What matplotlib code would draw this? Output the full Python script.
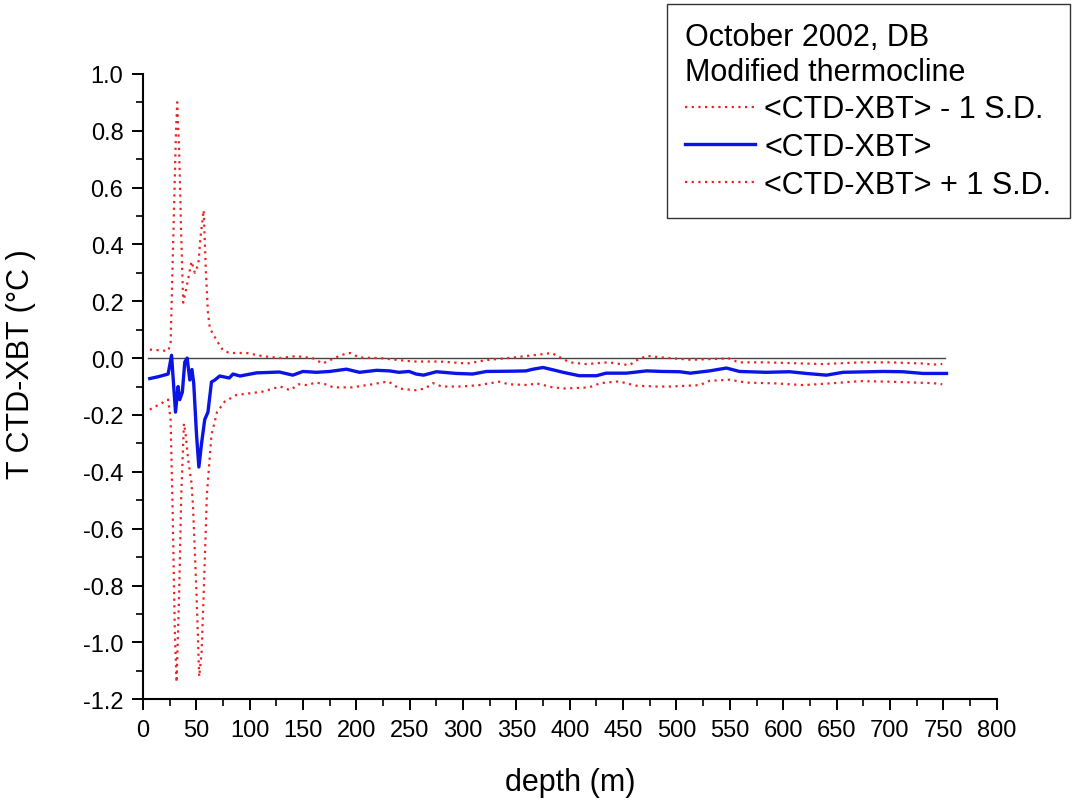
#!/usr/bin/env python3
"""
CTD minus XBT temperature difference vs depth, October 2002 (DB),
modified thermocline, with +/- 1 S.D. envelope.
"""

import matplotlib.pyplot as plt
from matplotlib.ticker import MultipleLocator

# ============================================================================
# DATA
# ============================================================================
depth_mean = [6.5, 15, 23.7, 26.9, 28.5, 30.6, 33, 34.6, 37, 39.3, 41.5, 44, 46,
              47.7, 50.3, 52.5, 55, 58, 61, 64.3, 67.5, 72, 81, 84.5, 91, 106.5,
              128, 140.5, 150, 162.7, 175, 190.8, 203, 219, 231, 240, 249.5, 256,
              263, 275, 294, 309, 322, 347, 359, 365.6, 375, 384, 393.7, 409, 425,
              434, 453, 472, 487, 503, 513, 531, 546.8, 559, 584, 606, 621.7,
              640.5, 656, 693.5, 712, 731, 753]
mean_dT = [-0.072, -0.065, -0.056, 0.01, -0.077, -0.19, -0.10, -0.146, -0.12,
           -0.014, 0.0, -0.077, -0.04, -0.09, -0.27, -0.383, -0.30, -0.216, -0.19,
           -0.084, -0.077, -0.063, -0.07, -0.056, -0.063, -0.052, -0.049, -0.06,
           -0.047, -0.05, -0.047, -0.039, -0.05, -0.043, -0.045, -0.05, -0.047,
           -0.056, -0.06, -0.048, -0.054, -0.056, -0.047, -0.046, -0.045, -0.039,
           -0.033, -0.041, -0.05, -0.062, -0.062, -0.053, -0.053, -0.045, -0.047,
           -0.048, -0.053, -0.045, -0.035, -0.047, -0.05, -0.048, -0.054, -0.06,
           -0.05, -0.047, -0.048, -0.054, -0.054]

depth_plus = [6.5, 23.7, 26, 28.5, 31, 32.2, 34, 36, 37.8, 41, 45.6, 48.7, 52, 54,
              57, 59, 61, 62.8, 69, 75, 81, 97, 112, 128, 143.5, 159, 168.6, 186,
              194, 203, 222, 253, 278, 304, 322, 347, 375, 383, 400, 415, 436, 456,
              462, 472, 487, 514, 549, 558, 584, 619, 637, 672, 700, 731, 740, 749]
plus_sd = [0.03, 0.025, 0.05, 0.42, 0.79, 0.90, 0.73, 0.425, 0.195, 0.25, 0.34,
           0.30, 0.33, 0.425, 0.52, 0.31, 0.16, 0.105, 0.063, 0.028, 0.018, 0.018,
           0.007, 0.0, 0.007, 0.0, -0.019, 0.011, 0.018, 0.002, 0.0, -0.012,
           -0.012, -0.019, -0.007, 0.002, 0.014, 0.018, -0.015, -0.021, -0.015,
           -0.025, -0.009, 0.008, 0.002, -0.006, -0.001, -0.015, -0.015, -0.019,
           -0.021, -0.015, -0.015, -0.019, -0.023, -0.021]

depth_minus = [6.5, 23.7, 26, 28, 30, 31.6, 34, 36, 38.5, 40, 42.4, 45.6, 47, 50.3,
               52.8, 55, 57, 60, 64.3, 69.5, 76.7, 87.6, 112, 128.7, 138, 146, 154,
               162, 171, 178.5, 196, 215, 230, 240, 255, 264.5, 272, 280, 299, 315,
               333.5, 343, 362, 368, 384, 396, 418, 429, 446, 462, 481, 494, 522,
               531, 550, 565, 593, 619, 644, 672, 700, 722, 740, 749]
minus_sd = [-0.181, -0.146, -0.216, -0.55, -0.97, -1.14, -0.83, -0.48, -0.23,
            -0.265, -0.355, -0.44, -0.52, -0.83, -1.12, -1.04, -0.83, -0.48, -0.27,
            -0.19, -0.153, -0.13, -0.118, -0.10, -0.113, -0.092, -0.095, -0.086,
            -0.092, -0.103, -0.103, -0.092, -0.082, -0.107, -0.113, -0.107, -0.088,
            -0.10, -0.10, -0.095, -0.083, -0.092, -0.095, -0.088, -0.103, -0.107,
            -0.103, -0.088, -0.082, -0.097, -0.10, -0.10, -0.095, -0.08, -0.076,
            -0.086, -0.089, -0.095, -0.089, -0.081, -0.083, -0.086, -0.088, -0.092]

zero_depth = [5, 752]
zero_value = [0.0, 0.0]

# ============================================================================
# STYLE
# ============================================================================
plt.rcParams['font.family'] = ['Liberation Sans', 'DejaVu Sans']
color_sd = '#ee2222'
color_mean = '#0a14e6'
color_zero = '#444444'

fig = plt.figure(figsize=(10.74, 8.04), dpi=100)
ax = fig.add_axes([0.133, 0.129, 0.795, 0.778])

# ============================================================================
# LINES
# ============================================================================
ax.plot(zero_depth, zero_value, color=color_zero, linewidth=1.0, zorder=1)
l_minus, = ax.plot(depth_minus, minus_sd, color=color_sd, linewidth=1.6,
                   linestyle=(0, (1, 2)), zorder=2)
l_mean, = ax.plot(depth_mean, mean_dT, color=color_mean, linewidth=2.4, zorder=3)
l_plus, = ax.plot(depth_plus, plus_sd, color=color_sd, linewidth=1.6,
                  linestyle=(0, (1, 2)), zorder=2)

# ============================================================================
# AXES
# ============================================================================
ax.set_xlim(0, 800)
ax.set_ylim(-1.2, 1.0)
ax.xaxis.set_major_locator(MultipleLocator(50))
ax.xaxis.set_minor_locator(MultipleLocator(25))
ax.yaxis.set_major_locator(MultipleLocator(0.2))
ax.yaxis.set_minor_locator(MultipleLocator(0.1))
ax.yaxis.set_major_formatter(lambda v, pos: f'{v:.1f}')

for side in ('top', 'right'):
    ax.spines[side].set_visible(False)
for side in ('left', 'bottom'):
    ax.spines[side].set_linewidth(1.5)

ax.tick_params(which='major', direction='out', length=8, width=1.4,
               labelsize=17, pad=6)
ax.tick_params(which='minor', direction='out', length=5, width=1.2)

ax.set_xlabel('depth (m)', fontsize=22)
ax.set_ylabel('T CTD-XBT (°C )', fontsize=22)
ax.xaxis.set_label_coords(0.5, -0.108)
ax.yaxis.set_label_coords(-0.125, 0.538)

# ============================================================================
# LEGEND
# ============================================================================
leg = fig.legend([l_minus, l_mean, l_plus],
                 ['<CTD-XBT> - 1 S.D.', '<CTD-XBT>', '<CTD-XBT> + 1 S.D.'],
                 title='October 2002, DB\nModified thermocline',
                 loc='upper right', bbox_to_anchor=(0.996, 0.994),
                 fontsize=22, title_fontsize=22, alignment='left',
                 frameon=True, fancybox=False, edgecolor='black',
                 handlelength=2.3, handletextpad=0.3, labelspacing=0.25,
                 borderpad=0.6, borderaxespad=0)
leg.get_frame().set_linewidth(1.0)

plt.savefig('out.png', dpi=100, facecolor='white')
plt.close()
